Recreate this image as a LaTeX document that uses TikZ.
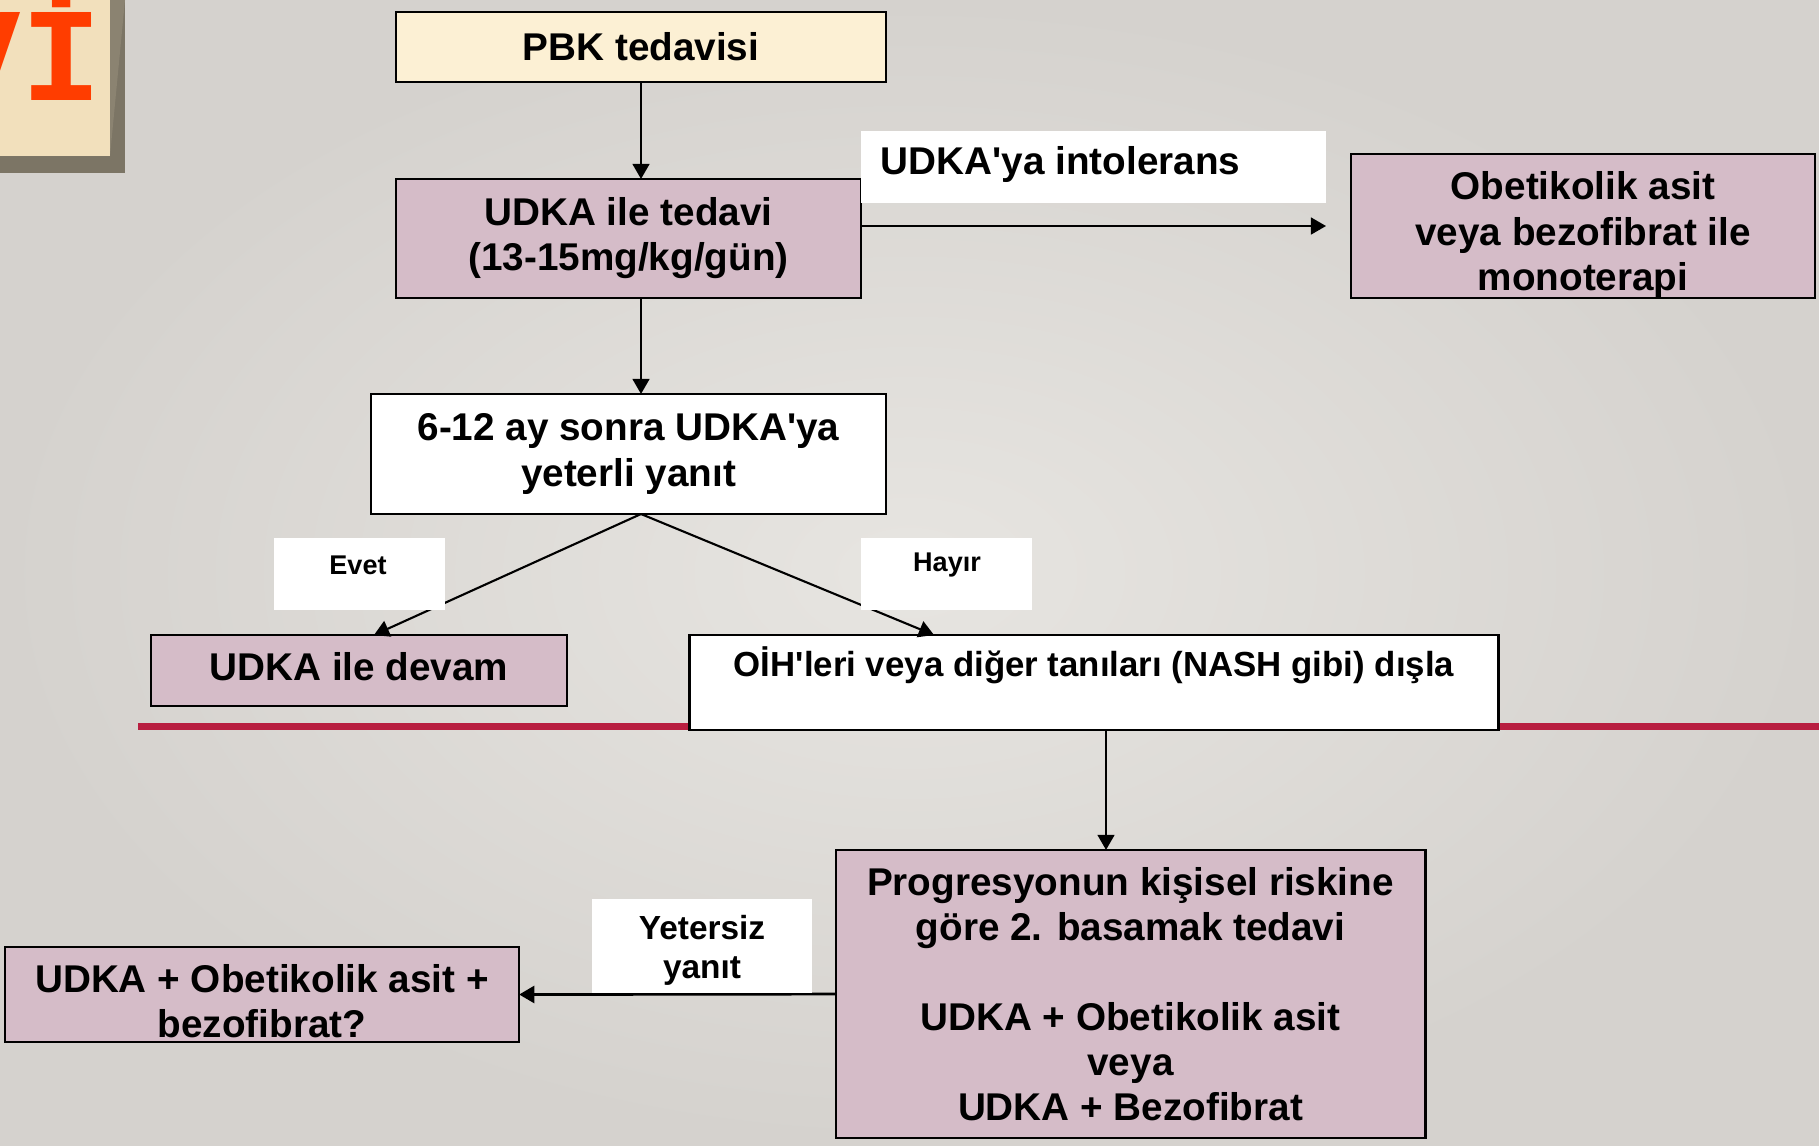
\documentclass[tikz,border=0pt]{standalone}
\usepackage{fontspec}
\setmainfont{Liberation Sans}
\newfontfamily\monofnt{Liberation Mono}
\usetikzlibrary{arrows.meta,calc}
\definecolor{bgin}{HTML}{E7E5E1}
\definecolor{bgout}{HTML}{D5D2CE}
\definecolor{pinkbox}{HTML}{D5BCC8}
\definecolor{parch}{HTML}{FCF0D4}
\definecolor{parchdk}{HTML}{F2E0BC}
\definecolor{redline}{HTML}{B81E40}
\definecolor{orng}{HTML}{FF3D00}
\definecolor{framec}{HTML}{8B8371}
\definecolor{framedk}{HTML}{7C7565}
\newcommand{\q}{\textquotesingle}
\begin{document}
\begin{tikzpicture}[x=0.01cm,y=-0.01cm,
  sz/.style 2 args={minimum width={#1*0.284528pt}, minimum height={#2*0.284528pt}},
  mainfont/.style={font=\bfseries\fontsize{11}{12.8}\selectfont},
  box/.style={draw=black, line width=0.75pt, inner sep=0pt, outer sep=0pt, align=center, mainfont},
  pinkb/.style={box, fill=pinkbox},
  whiteb/.style={box, fill=white},
  txt/.style={inner sep=0pt, align=center, mainfont},
  labbox/.style={fill=white, inner sep=0pt, outer sep=0pt},
  smalltxt/.style={inner sep=0pt, align=center, font=\bfseries\fontsize{7.7}{9}\selectfont},
  arr/.style={line width=0.6pt, -{Triangle[length=4.3pt,width=4.8pt]}},
]
\useasboundingbox (0,0) rectangle (1819,1145);
\shade[inner color=bgin, outer color=bgout] (0,0) rectangle (1819,1145);

% corner decoration
\begin{scope}
\clip (0,0) rectangle (125,173);
\fill[framedk] (0,0) rectangle (125,173);
\fill[framec] (0,0) -- (125,0) -- (110,156) -- (0,156) -- cycle;
\fill[parchdk] (0,0) rectangle (110,156);
\node[text=orng, inner sep=0pt, anchor=base east,
  font=\monofnt\bfseries\fontsize{38}{38}\selectfont] (corner) at (102,100) {Vİ};
\end{scope}

% red rule
\draw[redline, line width=2pt] (138,726) -- (1819,726);

% boxes
\node[box, fill=parch, sz={490}{70}] (pbk) at (641,47) {PBK tedavisi};
\node[pinkb, sz={465}{119}] (udka) at (628.5,238.5) {UDKA ile tedavi\\(13-15mg/kg/gün)};
\node[pinkb, sz={464}{144}] (obet) at (1583,226) {};
\node[txt] (obettext) at (1583,235) {Obetikolik asit\\veya bezofibrat ile\\monoterapi};
\node[whiteb, sz={515}{120}] (q) at (628.5,454) {6-12 ay sonra UDKA\q ya\\yeterli yanıt};
\node[pinkb, sz={416}{71}] (devam) at (359,670.5) {};
\node[txt] (devamtext) at (359,667) {UDKA ile devam};
\node[whiteb, sz={808}{95}] (oih) at (1094,682.5) {};
\node[inner sep=0pt, font=\bfseries\fontsize{9.9}{11}\selectfont] (oihtext) at (1094,665)
  {OİH\q leri veya diğer tanıları (NASH gibi) dışla};
\node[pinkb, sz={589}{288}] (prog) at (1130.5,994)
  {Progresyonun kişisel riskine\\göre 2. basamak tedavi\\[12.8pt]UDKA + Obetikolik asit\\veya\\UDKA + Bezofibrat};
\node[pinkb, sz={514}{95}] (triple) at (262,994.5) {};
\node[txt] (tripletext) at (262,1001.5) {UDKA + Obetikolik asit +\\bezofibrat?};

% connectors
\coordinate (intend) at (1326,226);
\coordinate (apex) at (641,514);
\coordinate (evend) at (374,635);
\coordinate (hayend) at (934,635);
\coordinate (odown) at (1106,730);
\draw[arr] (pbk.south) -- (pbk.south |- udka.north);
\draw[arr] (pbk.south |- udka.south) -- (pbk.south |- q.north);
\draw[arr] (udka.east |- intend) -- (intend);
\draw[arr] (apex) -- (evend);
\draw[arr] (apex) -- (hayend);
\draw[arr] (odown) -- (odown |- prog.north);
\draw[arr, line width=0.8pt] (prog.west) -- (triple.east);

% labels
\node[labbox, sz={465}{72}] (intolbox) at (1093.5,167) {};
\node[inner sep=0pt, anchor=west, mainfont] (intoltext) at (880,164) {UDKA\q ya intolerans};
\node[labbox, sz={171}{72}] (evetbox) at (359.5,574) {};
\node[smalltxt] (evettext) at (358,565) {Evet};
\node[labbox, sz={171}{72}] (hayirbox) at (946.5,574) {};
\node[smalltxt] (hayirtext) at (947,565) {Hayır};
\node[labbox, sz={220}{94}] (yetbox) at (702,946) {};
\node[inner sep=0pt, align=center, font=\bfseries\fontsize{9.5}{10.9}\selectfont] (yettext) at (702,950.5) {Yetersiz\\yanıt};
\end{tikzpicture}
\end{document}
